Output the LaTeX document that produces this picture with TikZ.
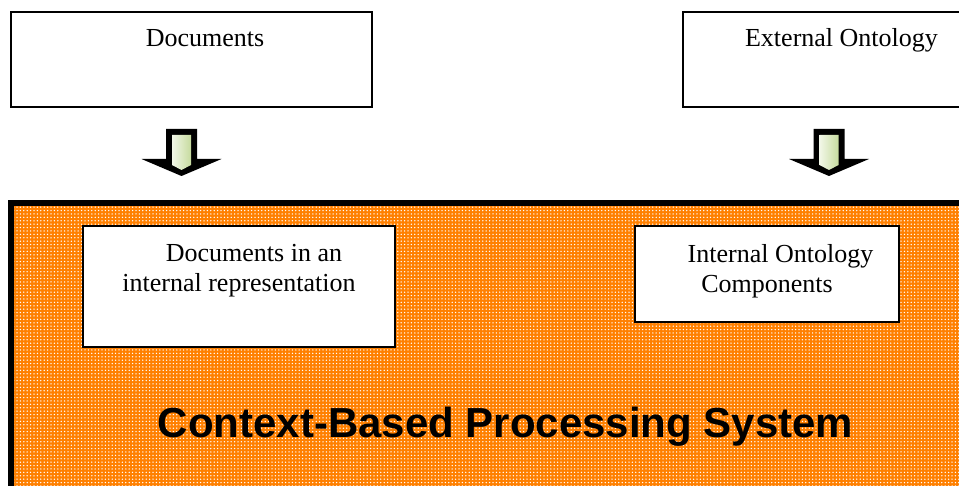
\documentclass[tikz,border=0pt]{standalone}
\usepackage{fontspec}
\setmainfont{Liberation Serif}
\newfontfamily\syshead{Liberation Sans}
\usepackage{tikz}
\usetikzlibrary{patterns,patterns.meta}
\usetikzlibrary{calc}
\definecolor{sysorange}{RGB}{255,128,0}
\definecolor{arrowlight}{RGB}{242,247,232}
\definecolor{arrowgreen}{RGB}{198,219,158}
\tikzstyle{plainbox}=[draw, line width=1.4pt, fill=white, inner sep=0, outer sep=0]
\tikzstyle{boxtext}=[inner sep=0, font=\fontsize{26}{30}\selectfont, align=center]
\tikzstyle{sysbox}=[draw, line width=6pt, inner sep=0, outer sep=0,
                    preaction={fill=sysorange},
                    pattern={Dots[radius=0.75pt, distance=3.4pt]}, pattern color=white]
% Word-like block arrow, top centre of the shaft at #1.
\newcommand{\blockarrow}[1]{%
  \begin{scope}[shift={(#1)}]
    \fill[black] (-15.5,0) -- (15.5,0) -- (15.5,30) -- (40,30) -- (0,47) -- (-40,30) -- (-15.5,30) -- cycle;
    \shade[left color=arrowlight, right color=arrowgreen] (-9.5,6) -- (9.5,6) -- (9.5,36) -- (0,41) -- (-9.5,36) -- cycle;
  \end{scope}}

\begin{document}
\begin{tikzpicture}[x=1pt, y=-1pt]
        \useasboundingbox (0,0) rectangle (959,486);
        \node[plainbox, minimum width=361pt, minimum height=95pt] (Docs) at (191.5,59.5) {};
        \node[plainbox, minimum width=290pt, minimum height=95pt] (ExtOnt) at (828,59.5) {};
        \node[boxtext, anchor=base] at ([xshift=13.5pt, yshift=-35pt]Docs.north) {Documents};
        \node[boxtext, anchor=base] at ([xshift=13.5pt, yshift=-35pt]ExtOnt.north) {External Ontology};
        \coordinate (DocsArr) at ([xshift=-10pt, yshift=-22pt]Docs.south);
        \coordinate (ExtOntArr) at ([xshift=1pt, yshift=-22pt]ExtOnt.south);
        \blockarrow{DocsArr}
        \blockarrow{ExtOntArr}
        \node[sysbox, minimum width=990pt, minimum height=320pt, anchor=north west] (Sys) at (11,203) {};
        \node[plainbox, minimum width=312pt, minimum height=121pt] (DocsInt) at (239,286.5) {};
        \node[plainbox, minimum width=264pt, minimum height=96pt] (IntOnt) at (767,274) {};
        \node[boxtext, anchor=north] at ([yshift=-18pt]DocsInt.north) {\hspace*{30pt}Documents in an\\internal representation};
        \node[boxtext, anchor=north] at ([yshift=-18pt]IntOnt.north) {\hspace*{27pt}Internal Ontology\\Components};
        \node[inner sep=0, font=\syshead\bfseries\fontsize{42}{42}\selectfont, anchor=base] (SysName) at (505.5,437) {Context-Based Processing System};
    \end{tikzpicture}
\end{document}
